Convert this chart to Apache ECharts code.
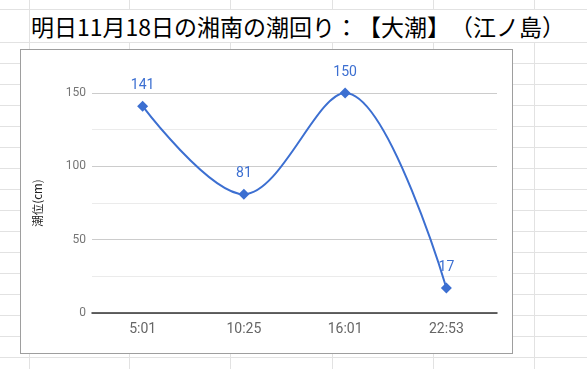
<!DOCTYPE html>
<html><head><meta charset="utf-8">
<script src="https://cdn.jsdelivr.net/npm/echarts@6/dist/echarts.min.js"></script>
<style>
html,body{margin:0;padding:0;width:587px;height:369px;overflow:hidden;background:#fff;}
#sheet{position:absolute;left:0;top:0;width:587px;height:369px;}
.h{position:absolute;left:0;width:587px;height:1px;background:#e2e2e2;}
.v{position:absolute;width:1px;background:#e2e2e2;}
#box{position:absolute;left:20px;top:49px;width:491px;height:303px;background:#fff;border:1px solid #9e9e9e;}
#chart{position:absolute;left:0;top:0;width:587px;height:369px;}
#title{position:absolute;left:31px;top:11px;font-family:"Noto Sans CJK JP";font-size:23px;line-height:30px;color:#000;white-space:nowrap;text-spacing-trim:space-all;}
</style></head>
<body>
<div id="sheet"></div>
<div id="title"></div>
<div id="box"></div>
<div id="chart"></div>
<script>
const titleText = '明日11月18日の湘南の潮回り：【大潮】（江ノ島）';
const categories = ['5:01', '10:25', '16:01', '22:53'];
const tideValues = [141, 81, 150, 17];
const yAxisName = '潮位(cm)';

document.getElementById('title').textContent = titleText;

// spreadsheet background grid (decoration)
const sheet = document.getElementById('sheet');
function hl(y){const d=document.createElement('div');d.className='h';d.style.top=y+'px';sheet.appendChild(d);}
function vl(x,y0,y1){const d=document.createElement('div');d.className='v';d.style.left=x+'px';d.style.top=y0+'px';d.style.height=(y1-y0)+'px';sheet.appendChild(d);}
hl(9);
for(let y=42;y<369;y+=21) hl(y);
[29,129,230,332,433,534].forEach(x=>{vl(x,0,9);vl(x,42,369);});
vl(29,9,42);

const chart = echarts.init(document.getElementById('chart'), null, {renderer:'canvas'});
chart.setOption({
  backgroundColor:'transparent',
  animation:false,
  grid:{left:92, right:90, top:93, bottom:56, containLabel:false},
  xAxis:{
    type:'category', data:categories, boundaryGap:true,
    axisTick:{show:false},
    axisLine:{show:true, lineStyle:{color:'#333', width:1.5}},
    axisLabel:{color:'#666', fontSize:14, margin:9, fontFamily:'Roboto'},
    splitLine:{show:false}
  },
  yAxis:{
    type:'value', min:0, max:150, interval:50,
    name:yAxisName, nameLocation:'middle', nameRotate:90, nameGap:49,
    nameTextStyle:{color:'#222', fontSize:11.5, fontFamily:'"Noto Sans CJK JP"'},
    axisLine:{show:false}, axisTick:{show:false},
    axisLabel:{color:'#757575', fontSize:12, margin:6, fontFamily:'Roboto'},
    splitLine:{lineStyle:{color:'#cccccc', width:1}},
    minorTick:{show:false, splitNumber:2},
    minorSplitLine:{show:true, lineStyle:{color:'#ebebeb', width:1}}
  },
  series:[{
    type:'line', data:tideValues, smooth:0.35,
    symbol:'diamond', symbolSize:11,
    itemStyle:{color:'#3c6fd1'},
    lineStyle:{color:'#3c6fd1', width:2},
    label:{show:true, position:'top', distance:8, color:'#3c6fd1', fontSize:14, fontFamily:'Roboto'}
  }]
});
</script>
</body></html>
